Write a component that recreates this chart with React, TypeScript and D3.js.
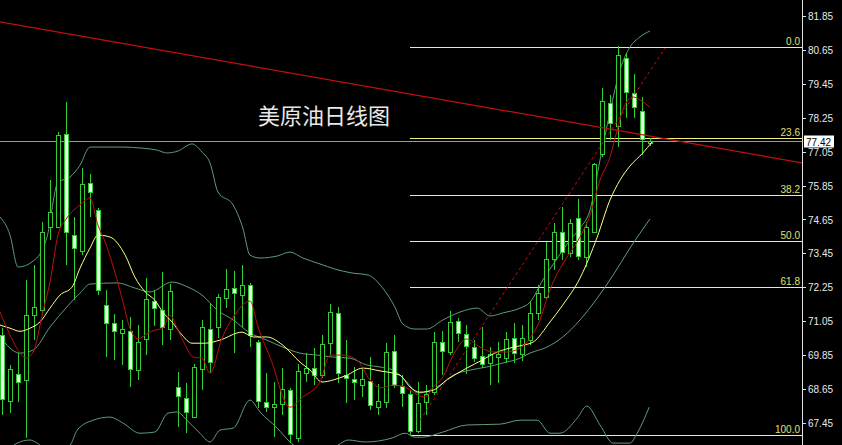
import * as d3 from "d3";
import { useEffect } from "react";

const W = 842;
const H = 445;
const AXIS_X = 802;

// daily candles, index 0 = left edge of the picture
const open = [
  70.57, 68.24, 69.19, 68.98, 71.27, 71.45, 74.38, 74.38, 77.67, 74.10,
  73.54, 75.94, 74.98, 71.63, 70.99, 70.64, 70.71, 69.33, 70.43, 71.77,
  71.45, 70.78, 68.73, 68.34, 67.67, 69.37, 70.78, 70.85, 71.87, 72.23,
  71.98, 72.33, 70.32, 68.20, 68.02, 68.13, 68.62, 66.93, 69.22, 69.40,
  69.15, 70.28, 71.35, 69.15, 69.01, 68.80, 68.94, 68.02, 68.20, 70.00,
  68.77, 68.48, 67.18, 68.20, 68.55, 70.32, 69.97, 71.06, 70.60, 70.14,
  69.83, 69.58, 69.79, 69.75, 70.46, 69.90, 70.39, 71.35, 71.91, 73.25,
  74.21, 73.46, 74.70, 73.32, 74.21, 76.96, 78.77, 77.95, 80.36, 79.12,
  78.48, 77.35,
];
const high = [
  70.81, 69.51, 69.93, 72.51, 73.04, 74.56, 76.04, 77.74, 78.80, 74.74,
  76.47, 76.26, 75.06, 72.16, 71.31, 71.10, 71.20, 70.92, 72.58, 72.16,
  72.79, 72.37, 69.26, 68.87, 69.54, 71.10, 71.70, 72.02, 72.90, 72.83,
  73.04, 72.41, 70.39, 69.22, 68.91, 69.40, 68.70, 69.54, 69.93, 70.11,
  70.57, 71.66, 71.56, 70.39, 69.44, 69.40, 69.79, 68.84, 70.28, 70.57,
  69.15, 68.62, 68.91, 68.80, 70.67, 70.71, 71.42, 71.17, 70.92, 70.39,
  70.85, 70.14, 70.32, 70.67, 70.99, 70.92, 71.73, 72.33, 73.85, 74.52,
  75.09, 74.67, 75.37, 74.56, 76.65, 79.30, 79.05, 80.78, 80.53, 79.79,
  78.98, 77.53,
];
const low = [
  67.74, 67.81, 68.20, 66.93, 70.39, 71.27, 73.92, 74.35, 73.04, 71.80,
  73.39, 74.74, 71.98, 69.79, 69.68, 69.51, 68.73, 68.98, 69.86, 70.89,
  70.21, 70.39, 67.32, 67.10, 67.63, 68.62, 69.22, 70.46, 71.52, 69.93,
  70.85, 70.14, 67.99, 67.85, 66.96, 67.74, 66.75, 66.79, 68.91, 68.80,
  69.05, 69.86, 68.87, 68.16, 68.27, 68.38, 67.92, 67.74, 67.99, 68.70,
  68.02, 67.03, 67.10, 67.74, 68.45, 69.15, 69.86, 70.32, 69.19, 69.61,
  69.40, 68.80, 68.87, 69.58, 69.58, 69.65, 70.21, 71.10, 71.85, 72.86,
  73.22, 73.32, 73.22, 72.97, 74.17, 76.86, 77.46, 77.21, 78.24, 78.24,
  76.93, 77.25,
];
const close = [
  68.31, 69.37, 68.91, 71.27, 71.56, 74.21, 74.91, 77.63, 74.21, 73.64,
  75.90, 75.62, 72.16, 70.99, 70.71, 70.78, 69.37, 70.32, 71.84, 71.52,
  70.85, 72.12, 68.41, 67.85, 69.44, 70.85, 69.61, 71.91, 72.19, 72.05,
  72.33, 70.57, 68.24, 68.02, 68.13, 68.66, 67.07, 69.30, 69.40, 69.15,
  70.25, 71.38, 69.22, 69.05, 68.91, 69.01, 68.09, 68.24, 69.97, 68.80,
  68.52, 67.18, 68.16, 68.48, 70.32, 70.00, 71.03, 70.64, 70.18, 69.75,
  69.54, 69.90, 69.90, 70.43, 69.93, 70.46, 71.35, 72.05, 73.25, 74.21,
  73.50, 74.52, 73.36, 74.38, 76.61, 78.84, 78.06, 80.46, 79.15, 78.62,
  77.49, 77.42,
];

// indicator lines as [candle index, price]
const maRed: [number, number][] = [
  [-0.25, 71.38], [1, 70.57], [2.25, 69.93], [3, 69.75], [3.9, 69.97], [5.1, 71.38],
  [6, 72.44], [7, 74.1], [8.1, 74.7], [9.75, 75.16], [11, 75.41], [12, 74.45],
  [12.9, 73.85], [14.1, 72.79], [15, 71.87], [16, 70.81], [17, 70.43], [18.25, 70.64],
  [19.1, 70.74], [20.1, 70.81], [21, 71.27], [21.9, 70.81], [22.9, 70.21], [23.9, 69.79],
  [25, 69.75], [26, 69.22], [27.5, 70.46], [28.9, 71.2], [31, 71.77], [32, 70.85],
  [33.5, 69.79], [36, 68.02], [37.6, 68.38], [39.75, 68.91], [41, 69.86], [42.6, 69.86],
  [44.4, 69.68], [46, 68.98], [47.25, 68.7], [48.9, 68.8], [50.6, 68.7], [51.9, 68.45],
  [52.9, 68.38], [53.9, 68.73], [55.1, 69.08], [56.4, 69.86], [58.1, 70.43], [59.75, 70.14],
  [61.4, 69.97], [63.1, 69.97], [64.75, 70.11], [66, 70.46], [67.25, 71.1], [68.25, 71.98],
  [68.9, 72.44], [70.4, 73.22], [72.25, 74.03], [73.5, 74.81], [74.75, 76.04], [76, 76.86],
  [76.9, 77.81], [77.6, 78.52], [78.9, 78.98], [79.75, 78.87], [81, 78.62],
];
const maYellow: [number, number][] = [
  [-0.25, 70.92], [1, 70.81], [2.25, 70.7], [3.5, 70.81], [4.75, 71.03], [6, 71.52],
  [7.25, 71.98], [8.75, 72.26], [9.75, 72.93], [11, 73.64], [12, 74.1], [13.5, 74.03],
  [15.4, 73.39], [16.6, 72.62], [17.9, 72.09], [19.1, 71.8], [20.1, 71.38], [21.25, 71.03],
  [22.5, 70.57], [23.75, 70.28], [25.4, 70.28], [27.25, 70.39], [30, 70.67], [31.4, 70.5],
  [33.1, 70.5], [35.1, 70.21], [37.25, 69.61], [38.5, 69.33], [40, 68.91], [41.4, 68.98],
  [43.1, 69.15], [45.1, 69.4], [47.25, 69.3], [49.75, 69.15], [51, 68.73], [52.25, 68.55],
  [53.9, 68.62], [55.6, 68.98], [58.1, 69.4], [60, 69.68], [61.6, 69.93], [63.5, 70.11],
  [65.1, 70.21], [66.4, 70.32], [68.5, 71.03], [70.1, 71.63], [72.25, 72.58], [74.4, 74.03],
  [76, 75.34], [77.25, 76.04], [78.5, 76.54], [80.1, 77.0], [81.25, 77.39],
];
const bbUpper: [number, number][] = [
  [-0.25, 74.74], [1, 74.1], [2, 72.97], [3.9, 73.18], [5.6, 74.0], [7, 75.97],
  [8.5, 76.15], [9.75, 76.57], [11, 77.21], [14.75, 77.21], [17.6, 77.17], [19.4, 77.1],
  [20.6, 77.0], [22, 77.07], [23.75, 77.32], [25, 77.03], [26, 76.65], [27, 75.62],
  [28.9, 75.16], [30.1, 74.35], [31, 73.39], [32.25, 73.29], [34.4, 73.36], [36, 73.5],
  [37.6, 73.29], [39.75, 73.08], [41.6, 72.9], [43.75, 72.76], [45.75, 72.69], [47.5, 72.26],
  [49.1, 71.56], [50.1, 70.96], [51.6, 70.78], [53.1, 70.78], [55.1, 71.1], [57.25, 71.38],
  [59.4, 71.52], [61, 71.24], [62.6, 71.35], [64.75, 71.52], [66, 71.73], [67.6, 72.51],
  [69.1, 73.15], [71, 73.92], [72.25, 74.35], [73.5, 74.98], [74.75, 76.75], [76, 78.45],
  [77.25, 79.93], [78.5, 80.74], [79.75, 81.1], [81, 81.31],
];
const bbMiddle: [number, number][] = [
  [-0.25, 70.5], [2.25, 69.93], [3.9, 70.04], [6, 70.85], [8.1, 71.56], [9.75, 72.05],
  [11, 72.37], [14.4, 72.41], [16.6, 72.23], [18.5, 72.09], [21.25, 72.44], [23.25, 72.26],
  [25, 71.98], [26.9, 71.45], [28.9, 71.1], [31, 70.64], [33.1, 70.39], [35.1, 70.14],
  [37.25, 69.93], [39.4, 69.86], [41.4, 69.79], [43.5, 69.75], [45.6, 69.51], [47.25, 69.44],
  [48.9, 69.33], [50.6, 68.91], [52, 68.52], [54.75, 68.8], [56.4, 69.15], [58.5, 69.33],
  [60.6, 69.44], [62.6, 69.58], [64.75, 69.75], [66, 69.93], [68.1, 70.14], [70.1, 70.5],
  [72.25, 71.1], [74.4, 71.87], [76.4, 72.69], [78.5, 73.64], [81, 74.67],
];
const bbLower: [number, number][] = [
  [-0.25, 66.15], [1.9, 66.75], [3.5, 66.86], [4.4, 66.75], [6, 66.43], [8.5, 66.68],
  [9.4, 67.21], [11.4, 67.56], [13.5, 67.67], [15.1, 67.46], [17.25, 67.1], [19.1, 67.14],
  [20.75, 67.81], [21.9, 67.85], [23.1, 67.56], [24.75, 67.1], [26, 66.79], [27.25, 67.21],
  [28.9, 67.28], [31, 68.27], [32.25, 67.85], [34.4, 67.28], [36, 66.79], [39.1, 66.33],
  [42, 66.68], [43.25, 66.86], [45.4, 66.79], [48.75, 66.93], [50.4, 67.1], [51.6, 66.96],
  [52.6, 66.96], [55.1, 67.14], [58.1, 67.39], [62.25, 67.42], [64.75, 67.56], [66.9, 67.56],
  [68.5, 67.1], [69.75, 67.1], [71.9, 67.63], [73.1, 68.06], [74.75, 67.39], [76.4, 66.75],
  [78.5, 66.75], [79.4, 67.1], [80.9, 68.02],
];

const trendLine: [number, number][] = [[-0.25, 81.63], [100, 76.65]];
const channelLine: [number, number][] = [[52.25, 67.56], [82.9, 80.71]];

const yTicks = [81.85, 80.65, 79.45, 78.25, 77.05, 75.85, 74.65, 73.45, 72.25, 71.05, 69.85, 68.65, 67.45];
const fibLevels = [0, 23.6, 38.2, 50, 61.8, 100];
const fibHigh = 80.75;
const fibLow = 67.03;
const fibStart = 51;
const lastPrice = 77.42;
const title = "美原油日线图";

const GREEN = "#32cd32";
const BAND = "#5f9c78";
const FIB = "#f2f27c";
const FIB_TEXT = "#e0e070";
const RED = "#c01010";

export default function App() {
  useEffect(() => {
    document.body.style.margin = "0";
    document.body.style.background = "#000";
  }, []);

  const x = d3.scaleLinear().domain([0, 81]).range([2, 650]);
  const y = d3.scaleLinear().domain([67.45, 81.85]).range([423.3, 15.7]);

  const line = d3
    .line<[number, number]>()
    .x((d) => x(d[0]))
    .y((d) => y(d[1]))
    .curve(d3.curveMonotoneX);
  const straight = d3
    .line<[number, number]>()
    .x((d) => x(d[0]))
    .y((d) => y(d[1]));

  const fibY = (lv: number) => Math.round(y(fibHigh - ((fibHigh - fibLow) * lv) / 100)) + 0.5;
  const lastY = Math.round(y(lastPrice)) + 0.5;

  return (
    <svg
      width={W}
      height={H}
      style={{ position: "absolute", left: 0, top: 0, display: "block", background: "#000" }}
    >
      <defs>
        <clipPath id="plot">
          <rect x={0} y={0} width={AXIS_X} height={H} />
        </clipPath>
      </defs>
      <rect width={W} height={H} fill="#000" />

      <g clipPath="url(#plot)">
        {/* fibonacci retracement */}
        {fibLevels.map((lv) => (
          <g key={lv}>
            <line x1={x(fibStart)} x2={AXIS_X} y1={fibY(lv)} y2={fibY(lv)} stroke={FIB} strokeWidth={1} />
            <text
              x={800}
              y={fibY(lv) - 3}
              textAnchor="end"
              fill={FIB_TEXT}
              fontFamily="Liberation Sans, Arial, sans-serif"
              fontSize={10}
            >
              {lv.toFixed(1)}
            </text>
          </g>
        ))}

        {/* last price line */}
        <line x1={0} x2={AXIS_X} y1={lastY} y2={lastY} stroke="#9a9a9a" strokeWidth={1} />

        {/* bollinger bands */}
        {[bbUpper, bbMiddle, bbLower].map((b, i) => (
          <path key={i} d={line(b) || ""} fill="none" stroke={BAND} strokeWidth={1} />
        ))}

        {/* candles */}
        {open.map((o, i) => {
          const c = close[i];
          const px = Math.round(x(i));
          const top = Math.round(y(Math.max(o, c))) + 0.5;
          const bot = Math.round(y(Math.min(o, c))) + 0.5;
          const up = c >= o;
          return (
            <g key={i}>
              <line
                x1={px + 0.5}
                x2={px + 0.5}
                y1={Math.round(y(high[i]))}
                y2={Math.round(y(low[i]))}
                stroke={GREEN}
                strokeWidth={1}
              />
              <rect
                x={px - 1.5}
                y={top}
                width={4}
                height={Math.max(1, bot - top)}
                fill={up ? "#000" : "#e4ffe4"}
                stroke={GREEN}
                strokeWidth={1}
              />
            </g>
          );
        })}

        {/* moving averages */}
        <path d={line(maYellow) || ""} fill="none" stroke="#ffff88" strokeWidth={1} />
        <path d={line(maRed) || ""} fill="none" stroke={RED} strokeWidth={1} />

        {/* trend lines */}
        <path d={straight(trendLine) || ""} fill="none" stroke={RED} strokeWidth={1.2} />
        <path d={straight(channelLine) || ""} fill="none" stroke={RED} strokeWidth={1} strokeDasharray="3,3" />

        <text x={258} y={124} fill="#e8e8e8" fontFamily="Noto Sans CJK SC, sans-serif" fontSize={22}>
          {title}
        </text>
      </g>

      {/* price axis */}
      <line x1={AXIS_X + 0.5} x2={AXIS_X + 0.5} y1={0} y2={H} stroke="#e0e0e0" strokeWidth={1} />
      {yTicks.map((t) => (
        <g key={t}>
          <line
            x1={AXIS_X}
            x2={AXIS_X + 4}
            y1={Math.round(y(t)) + 0.5}
            y2={Math.round(y(t)) + 0.5}
            stroke="#e0e0e0"
          />
          <text
            x={808}
            y={y(t) + 4}
            fill="#e8e8e8"
            fontFamily="Liberation Sans, Arial, sans-serif"
            fontSize={10}
          >
            {t.toFixed(2)}
          </text>
        </g>
      ))}
      <rect x={804} y={lastY - 6} width={30} height={12} fill="#fff" />
      <text x={806} y={lastY + 4} fill="#000" fontFamily="Liberation Sans, Arial, sans-serif" fontSize={10}>
        {lastPrice.toFixed(2)}
      </text>
    </svg>
  );
}
